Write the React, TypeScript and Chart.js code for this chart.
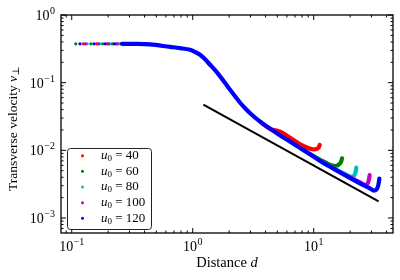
import React, { useEffect, useRef } from "react";
import { Chart, registerables } from "chart.js";

Chart.register(...registerables);

// ---------- data ----------
const seriesLabels = ["40", "60", "80", "100", "120"];
const seriesColors = ["#ff0000", "#008000", "#00bfbf", "#bf00bf", "#0000ff"];

// sparse early samples of each run (distance, velocity)
const head40D = [0.125, 0.161, 0.197, 0.233, 0.269];
const head40V = [0.375, 0.375, 0.375, 0.375, 0.375];
const head60D = [0.108, 0.144, 0.18, 0.216, 0.252];
const head60V = [0.375, 0.375, 0.375, 0.375, 0.375];
const head80D = [0.134, 0.17, 0.206, 0.242, 0.278];
const head80V = [0.375, 0.375, 0.375, 0.375, 0.375];
const head100D = [0.13, 0.166, 0.202, 0.238, 0.274];
const head100V = [0.375, 0.375, 0.375, 0.375, 0.375];
const head120D = [0.117, 0.153, 0.189, 0.225, 0.261];
const head120V = [0.375, 0.375, 0.375, 0.375, 0.375];

// part of the trajectory shared by all runs
const commonD = [0.32, 0.443, 0.649, 0.785, 0.95, 1.045, 1.149, 1.264, 1.391, 1.53, 1.683, 1.851, 2.036, 2.24, 2.464, 2.71, 2.981, 3.607, 4.364, 5.281, 6.391, 7.732, 9.355, 11.32, 13.7, 16.57, 20.06, 24.26];
const commonV = [0.374, 0.368, 0.338, 0.324, 0.306, 0.284, 0.258, 0.222, 0.184, 0.153, 0.124, 0.099, 0.0783, 0.0627, 0.0505, 0.0419, 0.0354, 0.0265, 0.0208, 0.0166, 0.0134, 0.0108, 0.00873, 0.00696, 0.00572, 0.0047, 0.00388, 0.00322];
// last shared distance per run, and where each run's own colour starts to show
const commonEnd = [4.364, 9.355, 13.7, 16.57, 24.26];
const shownFrom = [3.607, 7.732, 11.32, 13.7, 0];

// end of each run
const tail40D = [5.281, 6.391, 7.732, 9.355, 9.96, 10.59, 11.0, 11.21];
const tail40V = [0.01884, 0.01537, 0.01225, 0.01059, 0.01034, 0.01052, 0.01107, 0.01205];
const tail60D = [11.32, 13.7, 15.07, 16.26, 16.89, 17.12];
const tail60V = [0.00725, 0.00608, 0.00587, 0.00622, 0.00689, 0.00763];
const tail80D = [16.57, 18.23, 20.06, 21.23, 22.06, 22.48];
const tail80V = [0.00483, 0.00444, 0.0041, 0.00415, 0.00459, 0.00557];
const tail100D = [20.06, 22.78, 24.73, 26.69, 27.99, 28.64, 28.97];
const tail100V = [0.00394, 0.00354, 0.00327, 0.00309, 0.00327, 0.00375, 0.00429];
const tail120D = [29.36, 31.38, 32.91, 34.2, 34.85];
const tail120V = [0.00272, 0.00254, 0.00262, 0.00306, 0.00381];

// reference power law line
const refLineD = [1.224, 34.39];
const refLineV = [0.0475, 0.00176];

// axes
const xRange = [0.0815, 45.2];
const yRange = [6.16e-4, 1];
const xMajorTicks = [0.1, 1, 10];
const xMajorExp = ["\u22121", "0", "1"];
const yMajorTicks = [0.001, 0.01, 0.1, 1];
const yMajorExp = ["\u22123", "\u22122", "\u22121", "0"];
const decades = [1e-4, 1e-3, 1e-2, 1e-1, 1, 10];
const minorMult = [2, 3, 4, 5, 6, 7, 8, 9];

const heads = [[head40D, head40V], [head60D, head60V], [head80D, head80V], [head100D, head100V], [head120D, head120V]];
const tails = [[tail40D, tail40V], [tail60D, tail60V], [tail80D, tail80V], [tail100D, tail100V], [tail120D, tail120V]];

const SERIF = '"Liberation Serif", "DejaVu Serif", serif';
const CLEAR = "rgba(0,0,0,0)";

function buildSeries(i: number) {
  const [hd, hv] = heads[i];
  const [td, tv] = tails[i];
  const pts: { x: number; y: number }[] = [];
  hd.forEach((d, k) => pts.push({ x: d, y: hv[k] }));
  commonD.forEach((d, k) => {
    if (d <= commonEnd[i]) pts.push({ x: d, y: commonV[k] });
  });
  td.forEach((d, k) => pts.push({ x: d, y: tv[k] }));
  const headLen = hd.length;
  return {
    label: seriesLabels[i],
    data: pts,
    showLine: true,
    borderColor: seriesColors[i],
    backgroundColor: seriesColors[i],
    borderWidth: 4.2,
    borderCapStyle: "round",
    borderJoinStyle: "round",
    cubicInterpolationMode: "monotone",
    pointRadius: (c: any) => (c.dataIndex < headLen ? 1.6 : 0),
    pointBorderWidth: 0,
    pointHoverRadius: 0,
    segment: {
      borderColor: (c: any) =>
        c.p0DataIndex < headLen - 1 || c.p0.parsed.x < shownFrom[i] ? CLEAR : undefined,
    },
    order: 4 - i,
  };
}

function drawPower(ctx: CanvasRenderingContext2D, exp: string, x: number, baseline: number, align: string) {
  const baseFont = `14px ${SERIF}`;
  const expFont = `10px ${SERIF}`;
  ctx.font = baseFont;
  const wb = ctx.measureText("10").width;
  ctx.font = expFont;
  const we = ctx.measureText(exp).width;
  const total = wb + 0.5 + we;
  const sx = align === "center" ? x - total / 2 : x - total;
  ctx.textAlign = "left";
  ctx.textBaseline = "alphabetic";
  ctx.fillStyle = "#000";
  ctx.font = baseFont;
  ctx.fillText("10", sx, baseline);
  ctx.font = expFont;
  ctx.fillText(exp, sx + wb + 0.5, baseline - 6);
}

const axesPlugin = {
  id: "axesDecor",
  afterDraw(chart: any) {
    const ctx: CanvasRenderingContext2D = chart.ctx;
    const { left, right, top, bottom } = chart.chartArea;
    const xs = chart.scales.x;
    const ys = chart.scales.y;
    ctx.save();
    ctx.strokeStyle = "#000";
    ctx.lineWidth = 1;
    const tick = (x1: number, y1: number, x2: number, y2: number) => {
      ctx.beginPath();
      ctx.moveTo(x1, y1);
      ctx.lineTo(x2, y2);
      ctx.stroke();
    };
    // minor ticks
    decades.forEach((dec) => {
      minorMult.forEach((m) => {
        const v = dec * m;
        if (v > xRange[0] && v < xRange[1]) {
          const px = xs.getPixelForValue(v);
          tick(px, bottom, px, bottom - 2.5);
          tick(px, top, px, top + 2.5);
        }
        if (v > yRange[0] && v < yRange[1]) {
          const py = ys.getPixelForValue(v);
          tick(left, py, left + 2.5, py);
          tick(right, py, right - 2.5, py);
        }
      });
    });
    // major ticks + labels
    xMajorTicks.forEach((v, k) => {
      const px = xs.getPixelForValue(v);
      tick(px, bottom, px, bottom - 5);
      tick(px, top, px, top + 5);
      drawPower(ctx, xMajorExp[k], px, bottom + 17.5, "center");
    });
    yMajorTicks.forEach((v, k) => {
      const py = ys.getPixelForValue(v);
      tick(left, py, left + 5, py);
      tick(right, py, right - 5, py);
      drawPower(ctx, yMajorExp[k], left - 6, py + 5, "right");
    });
    // frame
    ctx.lineWidth = 1.3;
    ctx.strokeRect(left, top, right - left, bottom - top);

    // x title
    ctx.fillStyle = "#000";
    ctx.textBaseline = "middle";
    ctx.textAlign = "left";
    const regular = `14.5px ${SERIF}`;
    const italic = `italic 14.5px ${SERIF}`;
    ctx.font = regular;
    const w1 = ctx.measureText("Distance ").width;
    ctx.font = italic;
    const w2 = ctx.measureText("d").width;
    const cx = (left + right) / 2;
    let sx = cx - (w1 + w2) / 2;
    ctx.font = regular;
    ctx.fillText("Distance ", sx, 263);
    ctx.font = italic;
    ctx.fillText("d", sx + w1, 263);

    // y title
    const regY = `13.5px ${SERIF}`;
    const itY = `italic 13.5px ${SERIF}`;
    ctx.save();
    ctx.translate(13, 129);
    ctx.rotate(-Math.PI / 2);
    ctx.font = regY;
    const t1 = ctx.measureText("Transverse velocity ").width;
    ctx.font = itY;
    const t2 = ctx.measureText("v").width;
    ctx.font = `9.5px ${SERIF}`;
    const t3 = ctx.measureText("\u22a5").width;
    sx = -(t1 + t2 + t3) / 2;
    ctx.font = regY;
    ctx.fillText("Transverse velocity ", sx, 0);
    ctx.font = itY;
    ctx.fillText("v", sx + t1, 0);
    ctx.font = `9.5px ${SERIF}`;
    ctx.fillText("\u22a5", sx + t1 + t2 + 0.5, 3);
    ctx.restore();
    ctx.restore();
  },
};

const legendPlugin = {
  id: "boxLegend",
  afterDraw(chart: any) {
    const ctx: CanvasRenderingContext2D = chart.ctx;
    const { left, bottom } = chart.chartArea;
    const x0 = left + 6;
    const w = 84;
    const h = 81;
    const y0 = bottom - 4 - h;
    ctx.save();
    ctx.beginPath();
    ctx.roundRect(x0 + 0.5, y0 + 0.5, w, h, 3);
    ctx.fillStyle = "rgba(255,255,255,0.85)";
    ctx.fill();
    ctx.lineWidth = 1;
    ctx.strokeStyle = "#222";
    ctx.stroke();
    seriesLabels.forEach((lab, i) => {
      const y = y0 + 7.7 + i * 15.65;
      ctx.beginPath();
      ctx.arc(x0 + 15.5, y, 1.5, 0, Math.PI * 2);
      ctx.fillStyle = seriesColors[i];
      ctx.fill();
      ctx.fillStyle = "#000";
      ctx.textBaseline = "middle";
      ctx.textAlign = "left";
      let tx = x0 + 34;
      ctx.font = `italic 13px ${SERIF}`;
      ctx.fillText("u", tx, y);
      tx += ctx.measureText("u").width;
      ctx.font = `9px ${SERIF}`;
      ctx.fillText("0", tx, y + 3);
      tx += ctx.measureText("0").width;
      ctx.font = `13px ${SERIF}`;
      ctx.fillText(" = " + lab, tx, y);
    });
    ctx.restore();
  },
};

export default function App() {
  const ref = useRef<HTMLCanvasElement>(null);
  useEffect(() => {
    document.body.style.margin = "0";
    const canvas = ref.current!;
    const datasets: any[] = seriesLabels.map((_, i) => buildSeries(i));
    datasets.push({
      label: "",
      data: refLineD.map((d, k) => ({ x: d, y: refLineV[k] })),
      showLine: true,
      borderColor: "#000",
      backgroundColor: "#000",
      borderWidth: 2,
      pointRadius: 0,
      pointHoverRadius: 0,
      order: -1,
    });
    const chart = new Chart(canvas, {
      type: "scatter",
      data: { datasets },
      options: {
        responsive: false,
        animation: false,
        devicePixelRatio: 1,
        layout: { padding: { top: 15, right: 7, left: 0, bottom: 0 } },
        plugins: { legend: { display: false }, tooltip: { enabled: false } },
        events: [],
        scales: {
          x: {
            type: "logarithmic",
            min: xRange[0],
            max: xRange[1],
            ticks: { display: false },
            grid: { display: false, drawTicks: false },
            border: { display: false },
            afterFit: (s: any) => {
              s.height = 47;
            },
          },
          y: {
            type: "logarithmic",
            min: yRange[0],
            max: yRange[1],
            ticks: { display: false },
            grid: { display: false, drawTicks: false },
            border: { display: false },
            afterFit: (s: any) => {
              s.width = 61;
            },
          },
        },
      } as any,
      plugins: [axesPlugin, legendPlugin],
    } as any);
    return () => chart.destroy();
  }, []);
  return <canvas ref={ref} width={400} height={280} style={{ display: "block", width: 400, height: 280 }} />;
}
